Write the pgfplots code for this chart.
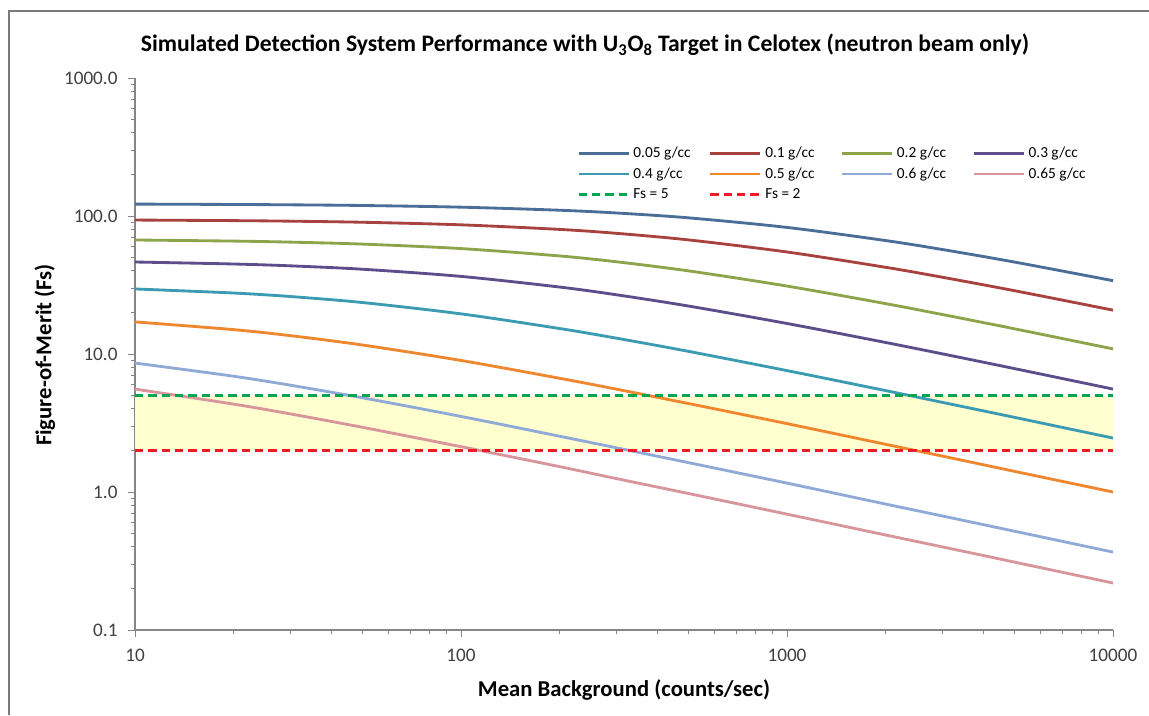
\documentclass[border=0pt]{standalone}
\usepackage{fontspec}
\setmainfont{Carlito}
\usepackage{pgfplots}
\pgfplotsset{compat=1.18}
\definecolor{cA}{HTML}{4A6E98}
\definecolor{cB}{HTML}{A8423F}
\definecolor{cC}{HTML}{8DA44A}
\definecolor{cD}{HTML}{5B4E8A}
\definecolor{cE}{HTML}{3B9BB2}
\definecolor{cF}{HTML}{EF872F}
\definecolor{cG}{HTML}{8FAAD6}
\definecolor{cH}{HTML}{D8959B}
\definecolor{fsg}{HTML}{00A651}
\definecolor{fsr}{HTML}{EE1C25}
\definecolor{band}{HTML}{FEFECF}
\definecolor{axgray}{HTML}{868686}
\definecolor{txt}{HTML}{404040}
\begin{document}
\begin{tikzpicture}
\useasboundingbox (0,0) rectangle (689.4pt,429pt);
\fill[white] (0,0) rectangle (689.4pt,429pt);
\draw[color=axgray!90!black, line width=1.6pt] (5.4pt,0) -- (5.4pt,422.4pt) -- (689.4pt,422.4pt);
\node[font=\bfseries\fontsize{14.2}{16}\selectfont, text=black] at (351pt,402pt)
  {Simulated Detection System Performance with U\textsubscript{3}O\textsubscript{8} Target in Celotex (neutron beam only)};
\node[font=\bfseries\fontsize{13.6}{15}\selectfont, rotate=90] at (27pt,216pt) {Figure-of-Merit (Fs)};
\node[font=\bfseries\fontsize{13.6}{15}\selectfont] at (374.4pt,15pt) {Mean Background (counts/sec)};
\begin{axis}[
  at={(81pt,51pt)}, anchor=south west,
  scale only axis, width=586.8pt, height=331.2pt,
  xmode=log, ymode=log,
  xmin=10, xmax=10000, ymin=0.1, ymax=1000,
  axis x line*=bottom, axis y line*=left,
  axis line style={axgray, line width=0.8pt},
  every tick/.style={axgray, line width=0.6pt},
  tick align=outside,
  major tick length=4pt, minor tick length=2.5pt,
  xtick={10,100,1000,10000}, xticklabels={10,100,1000,10000},
  ytick={0.1,1,10,100,1000}, yticklabels={0.1,1.0,10.0,100.0,1000.0},
  ticklabel style={font=\fontsize{11.5}{13}\selectfont, text=txt},
  xticklabel style={yshift=-4pt},
  yticklabel style={xshift=-3pt},
  legend columns=4,
  legend style={at={(rel axis cs:0.45,0.885)}, anchor=north west, draw=none, fill=none,
    font=\fontsize{9.2}{10}\selectfont, column sep=0pt, row sep=0.5pt, inner sep=1pt},
  legend cell align=left,
  legend image code/.code={\draw[#1] (0pt,0pt) -- (30pt,0pt);},
  every axis plot/.append style={line width=1.7pt},
]
\addplot[fill=band, draw=none, forget plot] coordinates {(10,2) (10000,2) (10000,5) (10,5)} -- cycle;
\addplot[cA, smooth] coordinates {(10,122.0) (20,121.25) (30,120.54) (50,119.17) (100,115.92) (200,110.16) (300,105.18) (500,96.95) (1000,82.66) (2000,66.48) (3000,57.15) (5000,46.32) (10000,33.99)};
\addlegendentry{\makebox[43.3pt][l]{0.05 g/cc}}
\addplot[cB, smooth] coordinates {(10,93.49) (20,92.60) (30,91.74) (50,90.09) (100,86.32) (200,80.01) (300,74.91) (500,67.08) (1000,54.86) (2000,42.55) (3000,35.98) (5000,28.72) (10000,20.79)};
\addlegendentry{\makebox[43.3pt][l]{0.1 g/cc}}
\addplot[cC, smooth] coordinates {(10,67.03) (20,65.82) (30,64.68) (50,62.57) (100,58.08) (200,51.39) (300,46.59) (500,40.00) (1000,31.07) (2000,23.21) (3000,19.32) (5000,15.21) (10000,10.89)};
\addlegendentry{\makebox[43.3pt][l]{0.2 g/cc}}
\addplot[cD, smooth] coordinates {(10,46.42) (20,44.91) (30,43.54) (50,41.13) (100,36.51) (200,30.60) (300,26.86) (500,22.24) (1000,16.64) (2000,12.14) (3000,10.02) (5000,7.83) (10000,5.57)};
\addlegendentry{\makebox[43.3pt][l]{0.3 g/cc}}
\addplot[cE, smooth] coordinates {(10,29.61) (20,27.68) (30,26.09) (50,23.59) (100,19.54) (200,15.32) (300,13.02) (500,10.44) (1000,7.58) (2000,5.44) (3000,4.46) (5000,3.47) (10000,2.46)};
\addlegendentry{\makebox[43.3pt][l]{0.4 g/cc}}
\addplot[cF, smooth] coordinates {(10,17.09) (20,15.03) (30,13.58) (50,11.61) (100,8.98) (200,6.68) (300,5.56) (500,4.37) (1000,3.13) (2000,2.22) (3000,1.82) (5000,1.41) (10000,1.00)};
\addlegendentry{\makebox[43.3pt][l]{0.5 g/cc}}
\addplot[cG, smooth] coordinates {(10,8.60) (20,6.91) (30,5.94) (50,4.81) (100,3.53) (200,2.54) (300,2.09) (500,1.63) (1000,1.16) (2000,0.819) (3000,0.670) (5000,0.519) (10000,0.367)};
\addlegendentry{\makebox[43.3pt][l]{0.6 g/cc}}
\addplot[cH, smooth] coordinates {(10,5.57) (20,4.34) (30,3.68) (50,2.94) (100,2.13) (200,1.53) (300,1.25) (500,0.974) (1000,0.691) (2000,0.489) (3000,0.400) (5000,0.310) (10000,0.219)};
\addlegendentry{\makebox[43.3pt][l]{0.65 g/cc}}
\addplot[fsg, line width=1.8pt, dash pattern=on 5pt off 3pt] coordinates {(10,5) (10000,5)};
\addlegendentry{\makebox[43.3pt][l]{Fs = 5}}
\addplot[fsr, line width=1.8pt, dash pattern=on 5pt off 3pt] coordinates {(10,2) (10000,2)};
\addlegendentry{\makebox[43.3pt][l]{Fs = 2}}
\end{axis}
\end{tikzpicture}
\end{document}
